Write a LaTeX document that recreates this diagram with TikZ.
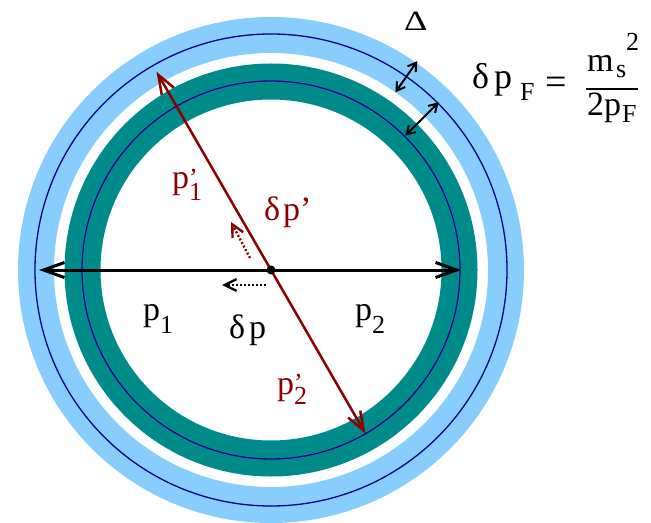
\documentclass[tikz,border=0pt]{standalone}
\usepackage{fontspec}
\setmainfont{Liberation Serif}
\usetikzlibrary{arrows.meta,calc}
\definecolor{lblue}{RGB}{135,206,255}
\definecolor{tealring}{RGB}{0,139,139}
\definecolor{navyline}{RGB}{0,0,139}
\definecolor{dred}{RGB}{139,0,0}
\newcommand\subsz{\fontsize{26bp}{26bp}\selectfont}
\begin{document}
\begin{tikzpicture}[x=1bp,y=-1bp,
  lbl/.style={inner sep=0pt, anchor=base west, font=\fontsize{34bp}{34bp}\selectfont},
  sublbl/.style={inner sep=0pt, anchor=base west, font=\subsz},
  ring/.style={line width=36bp},
  fermi/.style={navyline, line width=1.3bp},
  bigarrow/.style={line width=3bp, -{Straight Barb[length=21bp,width=15bp]}},
  redarrow/.style={dred, line width=2.5bp, -{Straight Barb[length=19bp,width=14bp]}},
  dotarrow/.style={line width=2.4bp, dash pattern=on 2bp off 2bp, -{Straight Barb[length=12bp,width=12bp,line width=2.4bp]}},
  gaparrow/.style={line width=2bp, {Straight Barb[length=8bp,width=10bp]}-{Straight Barb[length=8bp,width=10bp]}}
]
\useasboundingbox (0,0) rectangle (651,523);
\coordinate (C) at (271,270);
% rings
\draw[lblue, ring] (C) circle[radius=235];
\draw[fermi] (C) circle[radius=236];
\draw[tealring, ring] (C) circle[radius=188.5];
\draw[fermi] (C) circle[radius=189];
% endpoints
\coordinate (P1) at ($(C)+(180:232)$);
\coordinate (P2) at ($(C)+(0:190)$);
\coordinate (Q1) at ($(C)+(-120:229)$);
\coordinate (Q2) at ($(C)+(60:189)$);
% momentum arrows
\draw[bigarrow] (C) -- (P1);
\draw[bigarrow] (C) -- (P2);
\draw[redarrow] (C) -- (Q1);
\draw[redarrow] (C) -- (Q2);
% small dotted arrows
\coordinate (dpA) at (266,285);
\coordinate (dpB) at (222,285);
\coordinate (dqA) at (250,258);
\coordinate (dqB) at (231,222);
\draw[dotarrow] (dpA) -- (dpB);
\draw[dotarrow, dred] (dqA) -- (dqB);
\fill (C) circle[radius=4.5];
% gap arrows
\coordinate (D1) at ($(C)+(-55:217)$);
\coordinate (D2) at ($(C)+(-55:255)$);
\coordinate (F1) at ($(C)+(-45:190)$);
\coordinate (F2) at ($(C)+(-45:237)$);
\draw[gaparrow] (D1) -- (D2);
\draw[gaparrow] (F1) -- (F2);
% labels
\node[lbl] (p1) at (143,320) {p\raisebox{-13bp}{\subsz 1}};
\node[lbl] (dp) at (229,338) {δ\kern4bp p};
\node[lbl] (p2) at (355,320) {p\raisebox{-13bp}{\subsz 2}};
\node[lbl, dred] (q1) at (172,189) {p\raisebox{-12bp}{\subsz\rlap{\raisebox{14bp}{’}}1}};
\node[lbl, dred] (dq) at (264,221) {δ\kern3bp p’};
\node[lbl, dred] (q2) at (277,394) {p\raisebox{-10bp}{\subsz\rlap{\raisebox{13bp}{’}}2}};
\node[lbl, font=\fontsize{28bp}{28bp}\selectfont] (Delta) at (404,31) {\scalebox{1.3}[1]{Δ}};
% formula
\node[lbl, font=\fontsize{36bp}{36bp}\selectfont] (dpF) at (472,89) {δ\kern5bp p};
\node[sublbl] (dpFs) at (520,101) {F};
\node[lbl, anchor=center, font=\fontsize{38bp}{38bp}\selectfont] (eq) at (556,86) {=};
\coordinate (barL) at (586,89);
\coordinate (barR) at (638,89);
\draw[line width=2bp] (barL) -- (barR);
\node[lbl] (num) at (587,72) {m};
\node[sublbl] (nums) at (616,78) {s};
\node[sublbl] (sq) at (626,51) {2};
\node[lbl] (den) at (587,116) {2p};
\node[sublbl] (denF) at (622,123) {F};
\end{tikzpicture}
\end{document}
